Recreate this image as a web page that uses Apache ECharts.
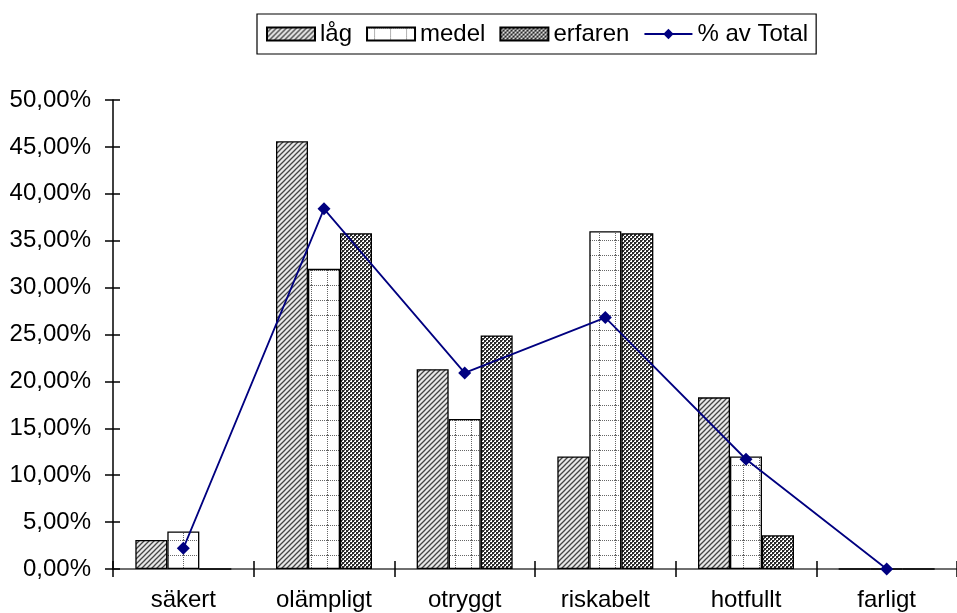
<!DOCTYPE html>
<html>
<head>
<meta charset="utf-8">
<script src="https://cdn.jsdelivr.net/npm/echarts@6/dist/echarts.min.js"></script>
<style>
html,body{margin:0;padding:0;background:#fff;}
#chart{width:957px;height:613px;}
</style>
</head>
<body>
<div id="chart"></div>
<script>
const categories = ['säkert', 'olämpligt', 'otryggt', 'riskabelt', 'hotfullt', 'farligt'];
const lag = [3.1, 45.6, 21.3, 12.0, 18.3, 0];
const medel = [4.0, 32.0, 16.0, 36.0, 12.0, 0];
const erfaren = [0, 35.8, 24.9, 35.8, 3.6, 0];
const total = [2.2, 38.4, 20.9, 26.8, 11.7, 0];

function makePattern(w, h, draw) {
  const c = document.createElement('canvas');
  c.width = w; c.height = h;
  const ctx = c.getContext('2d');
  draw(ctx, w, h);
  return { image: c, repeat: 'repeat' };
}
const hatch = makePattern(5, 5, (ctx, w, h) => {
  ctx.fillStyle = '#e8e8e8'; ctx.fillRect(0, 0, w, h);
  ctx.strokeStyle = '#444'; ctx.lineWidth = 1.3;
  ctx.beginPath();
  ctx.moveTo(-1, h + 1); ctx.lineTo(w + 1, -1);
  ctx.moveTo(-1, 1); ctx.lineTo(1, -1);
  ctx.moveTo(w - 1, h + 1); ctx.lineTo(w + 1, h - 1);
  ctx.stroke();
});
const dotgrid = makePattern(16, 15, (ctx, w, h) => {
  ctx.fillStyle = '#fff'; ctx.fillRect(0, 0, w, h);
  ctx.fillStyle = '#666';
  for (let x = 0; x < w; x += 2) ctx.fillRect(x, 0, 1, 1);
  for (let y = 0; y < h; y += 2) ctx.fillRect(7, y, 1, 1);
});
const checker = makePattern(4, 4, (ctx, w, h) => {
  ctx.fillStyle = '#fff'; ctx.fillRect(0, 0, w, h);
  ctx.fillStyle = '#2a2a2a';
  ctx.fillRect(0, 0, 2, 2); ctx.fillRect(2, 2, 2, 2);
  ctx.fillStyle = '#666';
  ctx.fillRect(2, 0, 1, 1); ctx.fillRect(0, 2, 1, 1);
});

const chart = echarts.init(document.getElementById('chart'), null, { renderer: 'canvas' });
const font = 'Liberation Sans';
const barStyle = (pat) => ({ color: pat, borderColor: '#000', borderWidth: 1.3 });

chart.setOption({
  animation: false,
  backgroundColor: '#fff',
  textStyle: { fontFamily: font },
  legend: {
    left: 257, top: 14,
    padding: [8, 8, 8, 9],
    borderColor: '#000', borderWidth: 1.2,
    itemWidth: 48, itemHeight: 13, itemGap: 14,
    textStyle: { fontFamily: font, fontSize: 24, color: '#000' },
    data: [
      { name: 'låg', icon: 'rect' },
      { name: 'medel', icon: 'rect' },
      { name: 'erfaren', icon: 'rect' },
      { name: '% av Total' }
    ]
  },
  grid: { left: 113, right: 0, top: 100, bottom: 44, containLabel: false },
  xAxis: [{
    type: 'category',
    data: categories,
    axisLine: { lineStyle: { color: '#000', width: 1.5 } },
    axisTick: { show: true, length: 8, alignWithLabel: false, lineStyle: { color: '#000', width: 1.5 } },
    axisLabel: { fontFamily: font, fontSize: 24, color: '#000', margin: 19 }
  }, {
    type: 'category',
    position: 'top',
    data: categories,
    axisLine: { lineStyle: { color: '#808080', width: 1.5 } },
    axisTick: { show: false },
    axisLabel: { show: false }
  }, {
    type: 'category',
    position: 'bottom',
    data: categories,
    axisLine: { show: false },
    axisTick: { show: true, inside: true, length: 8, alignWithLabel: false, lineStyle: { color: '#000', width: 1.5 } },
    axisLabel: { show: false }
  }],
  yAxis: [{
    type: 'value',
    min: 0, max: 50, interval: 5,
    axisLine: { show: true, lineStyle: { color: '#000', width: 1.5 } },
    axisTick: { show: true, length: 8, lineStyle: { color: '#000', width: 1.5 } },
    splitLine: { show: false },
    axisLabel: {
      fontFamily: font, fontSize: 24, color: '#000', margin: 22,
      formatter: v => v.toFixed(2).replace('.', ',') + '%'
    }
  }, {
    type: 'value',
    position: 'left',
    min: 0, max: 50, interval: 5,
    axisLine: { show: false },
    axisTick: { show: true, inside: true, length: 7, lineStyle: { color: '#000', width: 1.5 } },
    splitLine: { show: false },
    axisLabel: { show: false }
  }],
  series: [
    { name: 'låg', type: 'bar', data: lag, barWidth: 32, barGap: '0%', itemStyle: barStyle(hatch) },
    { name: 'medel', type: 'bar', data: medel, barWidth: 32, barGap: '0%', itemStyle: barStyle(dotgrid) },
    { name: 'erfaren', type: 'bar', data: erfaren, barWidth: 32, barGap: '0%', itemStyle: barStyle(checker) },
    {
      name: '% av Total', type: 'line', data: total, z: 5,
      symbol: 'diamond', symbolSize: 13,
      itemStyle: { color: '#000080' },
      lineStyle: { color: '#000080', width: 1.8 }
    }
  ]
});
</script>
</body>
</html>
